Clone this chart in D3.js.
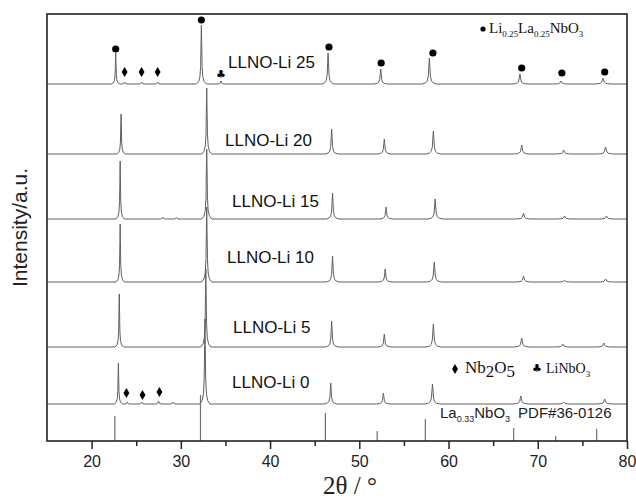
<!DOCTYPE html>
<html><head><meta charset="utf-8">
<script src="https://cdn.jsdelivr.net/npm/d3@7"></script>
<style>body{margin:0;background:#fff}</style>
</head><body><svg id="c" width="636" height="502"></svg>
<script>
// ---------- data (2θ in degrees, intensity in a.u.) ----------
const samples = ["LLNO-Li 25", "LLNO-Li 20", "LLNO-Li 15", "LLNO-Li 10", "LLNO-Li 5", "LLNO-Li 0"];
const baselines = [357, 287, 222, 159, 94, 37];

const li25Pos = [22.7, 23.7, 25.6, 27.4, 32.3, 34.5, 46.5, 52.4, 57.85, 68.0, 72.6, 77.3];
const li25Int = [31, 2, 2, 2, 59, 3, 31, 15, 26, 10, 3, 6];
const li20Pos = [23.3, 32.9, 46.9, 52.8, 58.3, 68.2, 72.9, 77.6];
const li20Int = [40, 66, 25, 15, 23, 9, 4, 7];
const li15Pos = [23.2, 28.0, 29.5, 32.9, 47.0, 53.0, 58.5, 68.4, 73.0, 77.7];
const li15Int = [58, 2, 1.5, 70, 26, 12, 20, 6, 3, 3];
const li10Pos = [23.2, 32.9, 47.0, 52.9, 58.4, 68.4, 73.0, 77.6];
const li10Int = [58, 75, 26, 13, 20, 6, 2, 3];
const li5Pos = [23.1, 32.8, 46.9, 52.8, 58.3, 68.2, 72.8, 77.4];
const li5Int = [53, 78, 26, 13, 23, 9, 3, 4];
const li0Pos = [23.0, 24.0, 25.6, 27.5, 29.1, 32.7, 46.8, 52.7, 58.2, 68.1, 72.9, 77.5];
const li0Int = [41, 2, 2, 3, 2, 85, 21, 11, 20, 8, 2, 5];

const refPos = [22.6, 32.2, 46.2, 52.0, 57.4, 67.3, 72.0, 76.6];
const refInt = [25, 46, 28, 10, 22, 13, 5, 12];

const xTicks = [20, 30, 40, 50, 60, 70, 80];
const xMinorTicks = [25, 35, 45, 55, 65, 75];

// phase markers: [2θ, level]
const dotPos = [22.7, 32.3, 46.6, 52.45, 58.25, 68.2, 72.7, 77.5];
const dotLevel = [392, 421, 394, 378, 388, 373, 368, 369];
const diamondPos = [23.7, 25.6, 27.4, 23.9, 25.7, 27.6];
const diamondLevel = [369, 369, 369, 48, 46, 49];
const clubPos = [34.5];
const clubLevel = [367];

const seriesPos = [li25Pos, li20Pos, li15Pos, li10Pos, li5Pos, li0Pos];
const seriesInt = [li25Int, li20Int, li15Int, li10Int, li5Int, li0Int];

// ---------- layout ----------
const W = 636, H = 502;
const m = {l: 47, r: 9, t: 14, b: 61};
const svg = d3.select("#c");
const x = d3.scaleLinear().domain([15, 80]).range([m.l, W - m.r]);
const y = d3.scaleLinear().domain([0, 427]).range([H - m.b, m.t]);

// peak drawing style (shape of a reflection, widening with angle)
const profDx = [-0.55, -0.3, -0.16, -0.08, -0.035, 0, 0.035, 0.08, 0.16, 0.3, 0.55];
const profFr = [0, 0.04, 0.12, 0.3, 0.7, 1, 0.7, 0.3, 0.12, 0.04, 0];
const widthAt = p => 0.8 + 0.018 * (p - 20);

function contrib(d, w) {
  const dx = d / w;
  if (dx <= profDx[0] || dx >= profDx[profDx.length - 1]) return 0;
  let k = 0;
  while (profDx[k + 1] < dx) k++;
  const t = (dx - profDx[k]) / (profDx[k + 1] - profDx[k]);
  return profFr[k] + t * (profFr[k + 1] - profFr[k]);
}

function buildPoints(pos, inten, base) {
  const xs = [15, 80];
  pos.forEach(p => profDx.forEach(d => xs.push(p + d * widthAt(p))));
  xs.sort((a, b) => a - b);
  return xs.map(xv => {
    let v = 0;
    pos.forEach((p, i) => { v += inten[i] * contrib(xv - p, widthAt(p)); });
    return [xv, base + v];
  });
}

const line = d3.line().x(d => x(d[0])).y(d => y(d[1]));

const g = svg.append("g");
seriesPos.forEach((pos, si) => {
  g.append("path")
    .attr("d", line(buildPoints(pos, seriesInt[si], baselines[si])))
    .attr("fill", "none").attr("stroke", "#606060").attr("stroke-width", 1);
});

// reference sticks
g.selectAll("line.ref").data(refPos).enter().append("line")
  .attr("x1", d => x(d)).attr("x2", d => x(d))
  .attr("y1", y(0)).attr("y2", (d, i) => y(refInt[i]))
  .attr("stroke", "#707070").attr("stroke-width", 1.2);

// frame
svg.append("rect").attr("x", m.l).attr("y", m.t)
  .attr("width", W - m.r - m.l).attr("height", H - m.b - m.t)
  .attr("fill", "none").attr("stroke", "#222").attr("stroke-width", 1.6);

// x axis
const ax = svg.append("g").attr("transform", `translate(0,${H - m.b})`)
  .call(d3.axisBottom(x).tickValues(xTicks).tickSize(8).tickSizeOuter(0).tickFormat(d3.format("d")));
ax.select(".domain").remove();
ax.selectAll(".tick line").attr("stroke", "#222").attr("stroke-width", 1.5);
ax.selectAll(".tick text").attr("font-family", "Arial, 'Liberation Sans', sans-serif")
  .attr("font-size", 16).attr("fill", "#222").attr("dy", "0.95em");
const axm = svg.append("g").attr("transform", `translate(0,${H - m.b})`)
  .call(d3.axisBottom(x).tickValues(xMinorTicks).tickSize(5).tickFormat(""));
axm.select(".domain").remove();
axm.selectAll(".tick line").attr("stroke", "#222").attr("stroke-width", 1.5);

// axis titles
const serif = "'Liberation Serif', 'DejaVu Serif', serif";
svg.append("text").attr("x", 323).attr("y", 494)
  .attr("font-family", serif).attr("font-size", 25).attr("fill", "#222")
  .text("2θ / °");
svg.append("text").attr("transform", `translate(27,${(m.t + H - m.b) / 2}) rotate(-90)`)
  .attr("text-anchor", "middle")
  .attr("font-family", "Arial, 'Liberation Sans', sans-serif").attr("font-size", 21).attr("fill", "#222")
  .text("Intensity/a.u.");

// sample labels
const labelX = [228, 225, 232, 227, 233, 232];
const labelY = [68, 146, 207, 263, 333, 388];
samples.forEach((s, i) => {
  svg.append("text").attr("x", labelX[i]).attr("y", labelY[i])
    .attr("font-family", "Arial, 'Liberation Sans', sans-serif").attr("font-size", 17).attr("fill", "#111")
    .text(s);
});

// markers
svg.selectAll("circle.dot").data(dotPos).enter().append("circle")
  .attr("cx", d => x(d)).attr("cy", (d, i) => y(dotLevel[i])).attr("r", 3.6).attr("fill", "#000");
const diamond = d3.symbol().type(d3.symbolDiamond).size(30);
svg.selectAll("path.dia").data(diamondPos).enter().append("path")
  .attr("d", diamond).attr("transform", (d, i) => `translate(${x(d)},${y(diamondLevel[i])})`).attr("fill", "#000");
svg.selectAll("text.club").data(clubPos).enter().append("text")
  .attr("x", d => x(d)).attr("y", (d, i) => y(clubLevel[i]) + 4).attr("text-anchor", "middle")
  .attr("font-family", "'DejaVu Sans', sans-serif").attr("font-size", 11).text("♣");

// legends
svg.append("circle").attr("cx", 483).attr("cy", 29).attr("r", 2.6).attr("fill", "#000");
const t1 = svg.append("text").attr("x", 489).attr("y", 33).attr("font-family", serif).attr("font-size", 15).attr("fill", "#111");
t1.append("tspan").text("Li");
t1.append("tspan").attr("font-size", 9).attr("dy", 4).text("0.25");
t1.append("tspan").attr("dy", -4).text("La");
t1.append("tspan").attr("font-size", 9).attr("dy", 4).text("0.25");
t1.append("tspan").attr("dy", -4).text("NbO");
t1.append("tspan").attr("font-size", 9).attr("dy", 4).text("3");

svg.append("path").attr("d", d3.symbol().type(d3.symbolDiamond).size(30))
  .attr("transform", "translate(455,369)").attr("fill", "#000");
const t2 = svg.append("text").attr("x", 465).attr("y", 373).attr("font-family", serif).attr("font-size", 17).attr("fill", "#111");
t2.append("tspan").text("Nb");
t2.append("tspan").attr("dy", 4).text("2");
t2.append("tspan").attr("dy", -4).text("O");
t2.append("tspan").attr("dy", 4).text("5");

svg.append("text").attr("x", 537).attr("y", 372).attr("text-anchor", "middle")
  .attr("font-family", "'DejaVu Sans', sans-serif").attr("font-size", 11).text("♣");
const t3 = svg.append("text").attr("x", 546).attr("y", 373).attr("font-family", serif).attr("font-size", 14).attr("fill", "#111");
t3.append("tspan").text("LiNbO");
t3.append("tspan").attr("font-size", 9).attr("dy", 4).text("3");

const t4 = svg.append("text").attr("x", 440).attr("y", 418).attr("font-family", "Arial, 'Liberation Sans', sans-serif").attr("font-size", 15).attr("fill", "#222");
t4.append("tspan").text("La");
t4.append("tspan").attr("font-size", 9).attr("dy", 4).text("0.33");
t4.append("tspan").attr("dy", -4).text("NbO");
t4.append("tspan").attr("font-size", 9).attr("dy", 4).text("3");
t4.append("tspan").attr("dy", -4).attr("dx", 8).text("PDF#36-0126");
</script></body></html>
